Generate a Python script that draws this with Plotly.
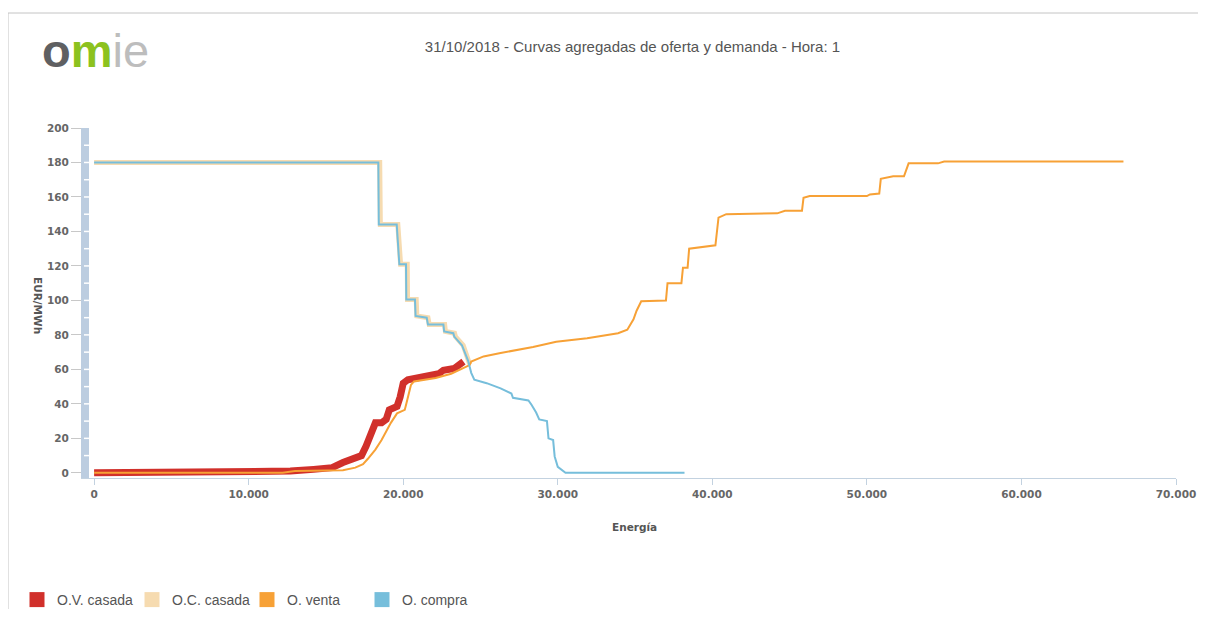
import plotly.graph_objects as go

# --- data (MWh, EUR/MWh) ---
compra_x = [0, 18390, 18420, 19580, 19750, 20180, 20200, 20760, 20800, 21520, 21600,
            22600, 22650, 23240, 23300, 23800, 24200, 24400, 24600, 25400, 26300,
            27000, 27100, 28100, 28300, 28600, 28800, 29300, 29400, 29700, 29800,
            30000, 30500, 38200]
compra_y = [180, 180, 144, 144, 121, 121, 100.5, 100.5, 91, 90, 86,
            86, 82, 81, 79, 74, 65, 58, 54, 52, 49,
            46, 43.5, 42, 39.5, 35, 31, 30, 20, 19, 9.5,
            3.5, 0, 0]

oc_casada_x = [0, 18480, 18520, 19650, 19830, 20260, 20280, 20840, 20880, 21600, 21680,
               22680, 22730, 23320, 23380, 23880, 24300]
oc_casada_y = [180, 180, 144, 144, 121, 121, 100.5, 100.5, 91, 90, 86,
               86, 82, 81, 79, 74, 63]

venta_x = [0, 12200, 13000, 16100, 16900, 17400, 17700, 18200, 18600, 18900, 19200,
           19600, 20100, 20200, 20500, 20700, 22100, 23100, 24300, 24400, 25200,
           26300, 28400, 29900, 31900, 33900, 34500, 34900, 35100, 35400, 37000,
           37100, 38000, 38100, 38400, 38500, 40200, 40400, 40900, 44200, 44700,
           45800, 45900, 46300, 50000, 50200, 50800, 50900, 51200, 51700, 52400,
           52700, 54600, 55000, 66600]
venta_y = [0, 0, 1, 1.5, 3, 5, 8, 13.5, 19, 24, 29,
           34.5, 36.5, 40, 51, 53, 55, 57.5, 62.5, 64.5, 67.5,
           69.5, 73, 76, 78, 81, 83, 89, 94, 99.5, 100,
           110, 110, 119, 119, 130, 132, 148, 150, 150.5, 152,
           152, 159.5, 160.5, 160.5, 161.5, 162, 170.5, 171, 172, 172,
           179.5, 179.5, 180.5, 180.5]

ov_casada_x = [0, 12500, 12700, 14200, 15400, 16100, 16900, 17300, 17600, 18000, 18200,
               18600, 18900, 19100, 19600, 19800, 20000, 20300, 21600, 22300, 22600,
               23300, 23900]
ov_casada_y = [0, 0, 1, 2, 3, 6, 8, 10, 15.5, 23, 29,
               29, 31, 36.5, 38.5, 44, 52, 54, 56, 57.5, 59.5,
               60.5, 64.5]

series_names = ["O.V. casada", "O.C. casada", "O. venta", "O. compra"]
series_colors = ["#d1302b", "#f6dbb0", "#f7a136", "#76bedb"]

# the page body has an 8px margin, so the figure is 16px smaller than the window
OFF = 8
W, H = 1206 - 2 * OFF, 617 - 2 * OFF
L, R, T, B = 89 - OFF, W - (1176 - OFF), 128 - OFF, H - (478 - OFF)


def paper_x(px):
    # px = horizontal position in the window
    return (px - OFF - L) / (W - L - R)


def paper_y(py):
    return (H - B - (py - OFF)) / (H - T - B)


fig = go.Figure()

# matched curves (thick) under the full curves
fig.add_trace(go.Scatter(x=oc_casada_x, y=oc_casada_y, mode="lines",
                         line=dict(color=series_colors[1], width=5), showlegend=False))
fig.add_trace(go.Scatter(x=ov_casada_x, y=ov_casada_y, mode="lines",
                         line=dict(color=series_colors[0], width=7), showlegend=False))
fig.add_trace(go.Scatter(x=venta_x, y=venta_y, mode="lines",
                         line=dict(color=series_colors[2], width=2), showlegend=False))
fig.add_trace(go.Scatter(x=compra_x, y=compra_y, mode="lines",
                         line=dict(color=series_colors[3], width=2), showlegend=False))

# square legend entries
for name, col in zip(series_names, series_colors):
    fig.add_trace(go.Scatter(x=[None], y=[None], mode="markers", name=name,
                             marker=dict(symbol="square", size=15, color=col)))

shapes = [
    # outer frame (top + left)
    dict(type="line", xref="paper", yref="paper", x0=paper_x(8), x1=paper_x(1215),
         y0=paper_y(13), y1=paper_y(13), line=dict(color="#c4c4c4", width=1)),
    dict(type="line", xref="paper", yref="paper", x0=paper_x(8), x1=paper_x(8),
         y0=paper_y(13), y1=paper_y(625), line=dict(color="#c4c4c4", width=1)),
]
# white separators on the thick y axis bar
for v in range(10, 200, 10):
    shapes.append(dict(type="line", xref="paper", yref="y", x0=paper_x(84), x1=paper_x(94),
                       y0=v, y1=v, layer="above", line=dict(color="white", width=1.5)))

tick_font = dict(family="DejaVu Sans", size=10.5, color="#666666", weight="bold")

fig.update_layout(
    width=W, height=H,
    margin=dict(l=L, r=R, t=T, b=B, autoexpand=False),
    paper_bgcolor="white", plot_bgcolor="white",
    title=dict(text="31/10/2018 - Curvas agregadas de oferta y demanda - Hora: 1",
               x=0.5, xanchor="center", xref="paper", y=1 - (47 - OFF) / H, yanchor="middle",
               font=dict(family="Liberation Sans", size=15, color="#555555")),
    showlegend=True,
    legend=dict(orientation="h", x=paper_x(17), xanchor="left", y=paper_y(600), yanchor="middle",
                entrywidth=70, entrywidthmode="pixels", itemsizing="trace",
                font=dict(family="Liberation Sans", size=14, color="#555555")),
    shapes=shapes,
    annotations=[
        dict(text="<b><span style='color:#5f6062'>o</span><span style='color:#8cc21f'>m</span></b>"
                  "<span style='color:#bdbdbd'>ie</span>",
             xref="paper", yref="paper", x=paper_x(40), y=paper_y(50), xanchor="left", yanchor="middle",
             showarrow=False, font=dict(family="Liberation Sans", size=47)),
        dict(text="<b>Energía</b>", xref="paper", yref="paper", x=paper_x(634), y=paper_y(527),
             xanchor="center", yanchor="middle", showarrow=False,
             font=dict(family="DejaVu Sans", size=10.5, color="#555555")),
        dict(text="<b>EUR/MWh</b>", xref="paper", yref="paper", x=paper_x(38), y=paper_y(305),
             xanchor="center", yanchor="middle", showarrow=False, textangle=90,
             font=dict(family="DejaVu Sans", size=10.5, color="#555555")),
    ],
)

fig.update_xaxes(range=[-330, 70000], tickvals=list(range(0, 70001, 10000)),
                 ticktext=["0", "10.000", "20.000", "30.000", "40.000", "50.000", "60.000", "70.000"],
                 showgrid=False, zeroline=False, showline=True, linecolor="#c3d2e0", linewidth=1,
                 ticks="outside", ticklen=6, tickcolor="#c3d2e0", tickfont=tick_font,
                 automargin=False)
fig.update_yaxes(range=[-3, 200], tickvals=list(range(0, 201, 20)),
                 showgrid=False, zeroline=False, showline=True, linecolor="#bccde0", linewidth=8,
                 ticks="outside", ticklen=10, tickcolor="#c8c8c8", tickfont=tick_font,
                 automargin=False)

fig.write_html("out.html")
